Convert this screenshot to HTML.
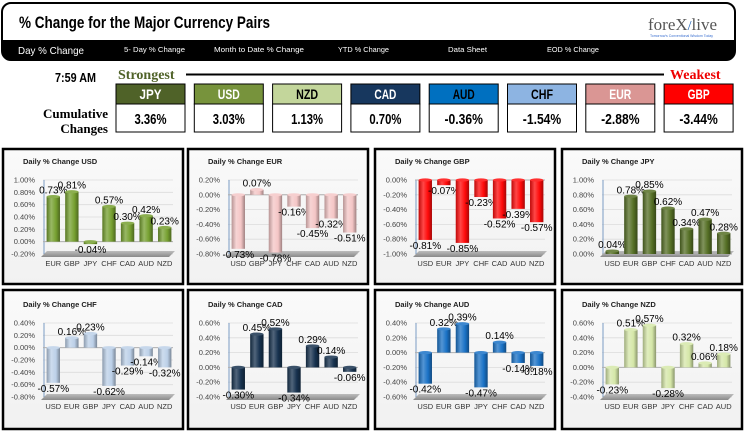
<!DOCTYPE html>
<html><head><meta charset="utf-8">
<style>
html,body{margin:0;padding:0;background:#fff;}
svg{display:block;font-family:"Liberation Sans",sans-serif;}
</style></head>
<body>
<svg id="root" width="750" height="432" viewBox="0 0 750 432" xmlns="http://www.w3.org/2000/svg">
<defs>
<linearGradient id="floorG" x1="0" y1="0" x2="0" y2="1"><stop offset="0" stop-color="#bdbdbd"/><stop offset="1" stop-color="#8a8a8a"/></linearGradient>
<linearGradient id="panelBg" x1="0" y1="0" x2="0" y2="1"><stop offset="0" stop-color="#fafafa"/><stop offset="1" stop-color="#f1f1f1"/></linearGradient>
</defs>
<g>
<rect x="2" y="3" width="733" height="57" rx="9" fill="#fff" stroke="#000" stroke-width="2"/>
<path d="M2 40 H735 V51 Q735 60 726 60 H11 Q2 60 2 51 Z" fill="#000"/>
<text x="19" y="28" font-weight="bold" font-size="17" textLength="251" lengthAdjust="spacingAndGlyphs">% Change for the Major Currency Pairs</text>
<text x="18" y="54" fill="#fff" font-size="10.5" textLength="66" lengthAdjust="spacingAndGlyphs">Day % Change</text>
<text x="124" y="52" fill="#fff" font-size="7.5" textLength="61" lengthAdjust="spacingAndGlyphs">5- Day % Change</text>
<text x="214" y="52" fill="#fff" font-size="7.5" textLength="90" lengthAdjust="spacingAndGlyphs">Month to Date % Change</text>
<text x="338" y="52" fill="#fff" font-size="7.5" textLength="51" lengthAdjust="spacingAndGlyphs">YTD % Change</text>
<text x="448" y="52" fill="#fff" font-size="7.5" textLength="39" lengthAdjust="spacingAndGlyphs">Data Sheet</text>
<text x="547" y="52" fill="#fff" font-size="7.5" textLength="52" lengthAdjust="spacingAndGlyphs">EOD % Change</text>
<text x="648" y="30" fill="#555" font-family="'Liberation Serif',serif" font-size="17">foreX<tspan fill="#1a5fb4" font-size="14">/</tspan>live</text>
<text x="650" y="37" fill="#3a6fd0" font-size="3.5">Tomorrow's Conventional Wisdom Today</text>
</g>
<g>
<text x="55" y="82" font-weight="bold" font-size="13" textLength="41" lengthAdjust="spacingAndGlyphs">7:59 AM</text>
<text x="118" y="79" fill="#4f6228" font-family="'Liberation Serif',serif" font-weight="bold" font-size="14">Strongest</text>
<line x1="186" y1="74.5" x2="664" y2="74.5" stroke="#000" stroke-width="2"/>
<text x="670" y="79" fill="#e00" font-family="'Liberation Serif',serif" font-weight="bold" font-size="14">Weakest</text>
<text x="108" y="118" text-anchor="end" font-family="'Liberation Serif',serif" font-weight="bold" font-size="13">Cumulative</text>
<text x="108" y="133" text-anchor="end" font-family="'Liberation Serif',serif" font-weight="bold" font-size="13">Changes</text>
<g id="boxes"></g>
</g>
<g id="charts"></g>
</svg>
<script>
const rankNames = ['JPY','USD','NZD','CAD','AUD','CHF','EUR','GBP'];
const rankValues = [3.36,3.03,1.13,0.70,-0.36,-1.54,-2.88,-3.44];
const rankColors = ['#4f6228','#77933c','#c3d69b','#17375e','#0070c0','#8db4e2','#da9694','#ff0000'];
const rankText = ['#fff','#fff','#000','#fff','#000','#000','#fff','#fff'];

const chartTitles = ['USD','EUR','GBP','JPY','CHF','CAD','AUD','NZD'];
const catsUSD = ['EUR','GBP','JPY','CHF','CAD','AUD','NZD'];
const valsUSD = [0.73,0.81,-0.04,0.57,0.30,0.42,0.23];
const catsEUR = ['USD','GBP','JPY','CHF','CAD','AUD','NZD'];
const valsEUR = [-0.73,0.07,-0.78,-0.16,-0.45,-0.32,-0.51];
const catsGBP = ['USD','EUR','JPY','CHF','CAD','AUD','NZD'];
const valsGBP = [-0.81,-0.07,-0.85,-0.23,-0.52,-0.39,-0.57];
const catsJPY = ['USD','EUR','GBP','CHF','CAD','AUD','NZD'];
const valsJPY = [0.04,0.78,0.85,0.62,0.34,0.47,0.28];
const catsCHF = ['USD','EUR','GBP','JPY','CAD','AUD','NZD'];
const valsCHF = [-0.57,0.16,0.23,-0.62,-0.29,-0.14,-0.32];
const catsCAD = ['USD','EUR','GBP','JPY','CHF','AUD','NZD'];
const valsCAD = [-0.30,0.45,0.52,-0.34,0.29,0.14,-0.06];
const catsAUD = ['USD','EUR','GBP','JPY','CHF','CAD','NZD'];
const valsAUD = [-0.42,0.32,0.39,-0.47,0.14,-0.14,-0.18];
const catsNZD = ['USD','EUR','GBP','JPY','CHF','CAD','AUD'];
const valsNZD = [-0.23,0.51,0.57,-0.28,0.32,0.06,0.18];
const axisMin = [-0.2,-0.8,-1.0,0,-0.8,-0.4,-0.6,-0.4];
const axisMax = [1.0,0.2,0.0,1.0,0.4,0.6,0.4,0.6];

const allCats=[catsUSD,catsEUR,catsGBP,catsJPY,catsCHF,catsCAD,catsAUD,catsNZD];
const allVals=[valsUSD,valsEUR,valsGBP,valsJPY,valsCHF,valsCAD,valsAUD,valsNZD];
const barColors=['#76a030','#f4c6c6','#ff0a0a','#556f25','#bcd0e8','#17324f','#1a72c6','#d5e7a8'];
const NS='http://www.w3.org/2000/svg';
function mk(tag,attrs,parent){const e=document.createElementNS(NS,tag);for(const k in attrs)e.setAttribute(k,attrs[k]);parent.appendChild(e);return e;}

const boxes=document.getElementById('boxes');
rankNames.forEach((n,i)=>{
  const x=116+i*78.3;
  const g=mk('g',{},boxes);
  
  
  mk('rect',{x:x,y:84,width:69,height:20,fill:rankColors[i],stroke:'#000','stroke-width':1},g);
  mk('rect',{x:x,y:104,width:69,height:28,fill:'#fff',stroke:'#000','stroke-width':1},g);
  const t=mk('text',{x:x+34.5,y:99,'text-anchor':'middle',fill:rankText[i],'font-weight':'bold','font-size':14,textLength:22,lengthAdjust:'spacingAndGlyphs'},g);
  t.textContent=n;
  const s=rankValues[i].toFixed(2)+'%';
  const v=mk('text',{x:x+34.5,y:124,'text-anchor':'middle',fill:'#000','font-weight':'bold','font-size':15,textLength:s.length*6.4,lengthAdjust:'spacingAndGlyphs'},g);
  v.textContent=s;
});

function shade(hex,f){const n=parseInt(hex.slice(1),16);let r=n>>16,g=(n>>8)&255,b=n&255;
  const m=c=>Math.max(0,Math.min(255,Math.round(f>0?c+(255-c)*f:c*(1+f))));return 'rgb('+m(r)+','+m(g)+','+m(b)+')';}

const charts=document.getElementById('charts');
const panelX=[3,188,375,562];
for(let p=0;p<8;p++){
  const row=p<4?0:1;
  const px=panelX[p%4], py=row===0?149:290, pw=180, ph=row===0?135:139;
  const cats=allCats[p], vals=allVals[p], mn=axisMin[p], mx=axisMax[p];
  const g=mk('g',{},charts);
  
  
  const defs=mk('defs',{},g);
  const gr=mk('linearGradient',{id:'bg'+p,x1:0,y1:0,x2:1,y2:0},defs);
  const c=barColors[p];
  mk('stop',{offset:0,'stop-color':shade(c,-0.25)},gr);
  mk('stop',{offset:0.35,'stop-color':shade(c,0.25)},gr);
  mk('stop',{offset:0.7,'stop-color':c},gr);
  mk('stop',{offset:1,'stop-color':shade(c,-0.35)},gr);
  mk('rect',{x:px,y:py,width:pw,height:ph,fill:'url(#panelBg)',stroke:'#000','stroke-width':2.5},g);
  const title=mk('text',{x:px+20,y:py+(row?17:15),'font-size':7.5,'font-weight':'bold',fill:'#222'},g);
  
  
  title.textContent='Daily % Change '+chartTitles[p];
  const top=py+(row?33:31), bot=top+74, left=px+40, right=px+170;
  const yS=v=>bot-(v-mn)/(mx-mn)*(bot-top);
  const nT=Math.round((mx-mn)/0.2);
  for(let k=0;k<=nT;k++){
    const v=mn+k*0.2, y=yS(v);
    mk('line',{x1:left,y1:y,x2:right,y2:y,stroke:'#dcdcdc','stroke-width':0.8},g);
    const t=mk('text',{x:px+32,y:y+2.5,'text-anchor':'end','font-size':7.5,fill:'#444'},g);
    
    
    t.textContent=(Math.abs(v)<1e-9?0:v).toFixed(2)+'%';
  }
  mk('path',{d:`M${left-2} ${bot+3} L${left+4} ${bot-3} L${right+2} ${bot-3} L${right-4} ${bot+3} Z`,fill:'url(#floorG)'},g);
  mk('line',{x1:left+1,y1:top,x2:left+1,y2:bot,stroke:'#7b9cc4','stroke-width':1},g);
  const z=yS(Math.max(mn,Math.min(mx,0)));
  mk('line',{x1:left,y1:z,x2:right,y2:z,stroke:'#b0b0b0','stroke-width':1},g);
  const bw=(right-left)/cats.length;
  cats.forEach((cat,i)=>{
    const cx=left+bw*(i+0.5)+1, w=bw*0.72;
    const y1=yS(vals[i]);
    const ya=Math.min(y1,z), yb=Math.max(y1,z);
    const bar=mk('rect',{x:cx-w/2,y:ya,width:w,height:Math.max(yb-ya,1),fill:`url(#bg${p})`},g);
    
    
    mk('ellipse',{cx:cx,cy:ya,rx:w/2,ry:1.6,fill:shade(c,0.15)},g);
    const lbl=mk('text',{x:cx,y:vals[i]>=0?y1-3:y1+9,'text-anchor':'middle','font-size':10,fill:'#000'},g);
    
    
    lbl.textContent=vals[i].toFixed(2)+'%';
    const cl=mk('text',{x:cx,y:bot+12,'text-anchor':'middle','font-size':7.5,fill:'#333'},g);
    
    
    cl.textContent=cat;
  });
}
</script>
</body></html>
